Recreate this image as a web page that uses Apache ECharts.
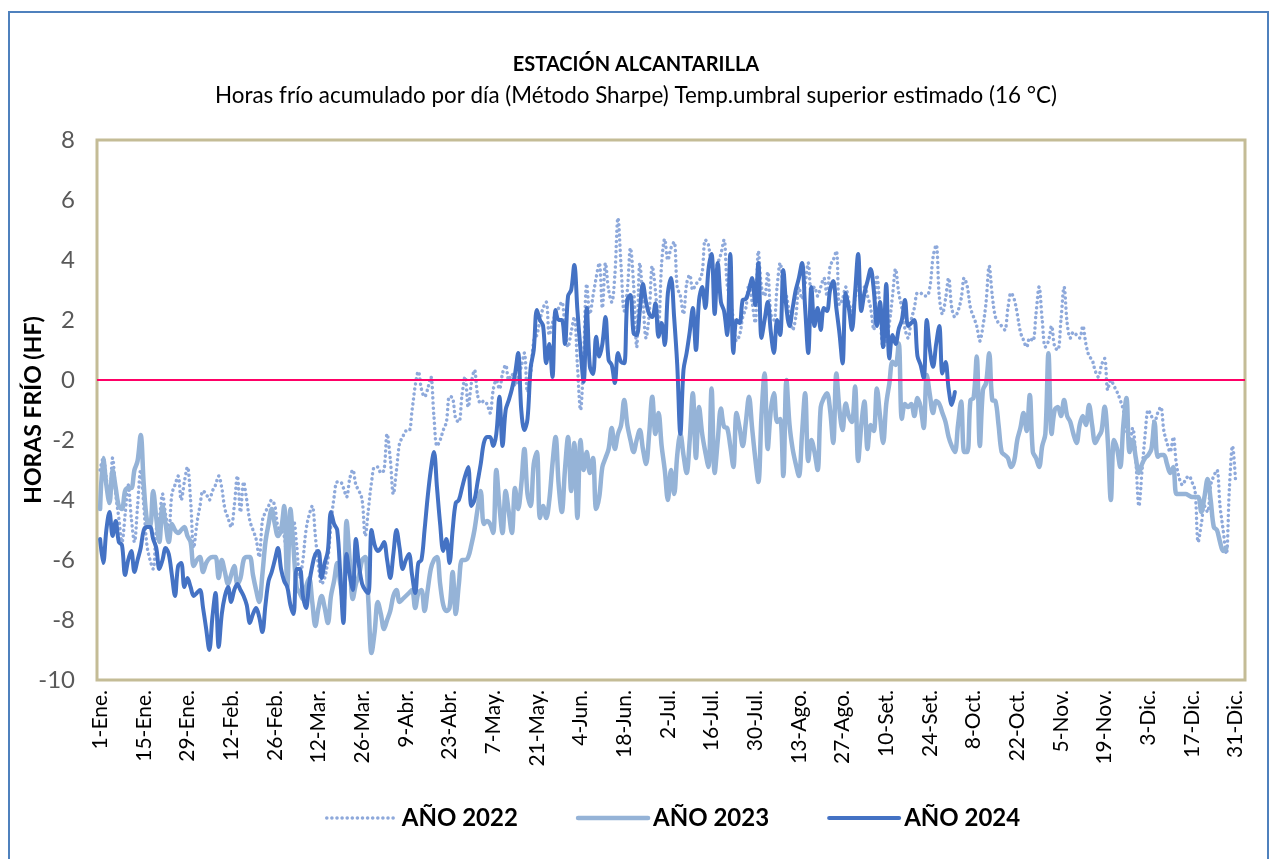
<!DOCTYPE html>
<html><head><meta charset="utf-8">
<script src="https://cdn.jsdelivr.net/npm/echarts@6/dist/echarts.min.js"></script>
<style>html,body{margin:0;padding:0;background:#fff}#c{width:1275px;height:859px}</style>
</head><body><div id="c"></div>
<script>
const months = ['Ene','Feb','Mar','Abr','May','Jun','Jul','Ago','Set','Oct','Nov','Dic'];
const monthDays = [31,28,31,30,31,30,31,31,30,31,30,31];
const tickLabels = ['1-Ene.','15-Ene.','29-Ene.','12-Feb.','26-Feb.','12-Mar.','26-Mar.','9-Abr.','23-Abr.','7-May.','21-May.','4-Jun.','18-Jun.','2-Jul.','16-Jul.','30-Jul.','13-Ago.','27-Ago.','10-Set.','24-Set.','8-Oct.','22-Oct.','5-Nov.','19-Nov.','3-Dic.','17-Dic.','31-Dic.'];
const seriesNames = ['AÑO 2022','AÑO 2023','AÑO 2024'];
const yMin = -10, yMax = 8, yStep = 2;

const d2022 = [
-3.0,-2.6,-3.3,-4.0,-2.6,-3.8,-4.6,-5.4,-4.5,-3.5,
-4.6,-5.4,-4.2,-3.0,-4.2,-5.5,-6.0,-6.3,-5.0,-4.6,
-3.8,-4.5,-5.0,-3.8,-3.5,-3.2,-4.0,-3.4,-2.9,-4.0,
-5.6,-4.8,-4.2,-3.7,-3.8,-4.0,-3.7,-3.5,-3.2,-3.6,
-4.3,-4.6,-4.9,-4.2,-3.2,-4.4,-3.4,-4.0,-4.7,-5.0,
-5.3,-5.9,-4.7,-4.4,-4.2,-4.0,-4.2,-4.9,-5.0,-5.2,
-6.0,-5.0,-4.7,-5.5,-6.6,-6.0,-5.0,-4.5,-4.2,-5.2,
-6.2,-6.8,-6.6,-6.0,-4.8,-3.9,-3.4,-3.4,-3.6,-3.9,
-3.3,-3.0,-3.5,-3.7,-4.0,-5.2,-4.3,-3.4,-2.9,-2.9,
-3.1,-3.0,-1.8,-2.6,-3.8,-3.0,-2.1,-1.9,-1.7,-1.7,
-1.0,-0.2,0.28,-0.3,-0.56,-0.3,0.11,-1.2,-2.2,-2.0,
-1.67,-1.4,-0.55,-0.6,-1.3,-1.4,-0.5,0.11,-0.9,-0.11,
0.33,-0.5,-0.78,-0.7,-0.8,-1.1,-0.33,0.0,-0.3,0.22,
0.5,0.0,0.2,-0.2,0.1,0.45,0.9,-0.4,0.2,1.3,
1.5,2.0,2.4,2.6,1.5,1.9,2.2,2.4,2.6,1.8,
1.1,1.6,2.1,0.5,-1.0,0.8,3.2,2.2,2.8,3.4,
3.9,2.4,3.9,3.0,2.6,3.5,5.4,3.8,2.3,3.0,
4.4,3.2,1.1,3.9,2.7,1.4,2.2,3.8,3.0,1.8,
3.9,4.7,4.0,4.4,4.6,3.1,2.8,2.2,3.2,3.5,
3.0,3.2,3.3,3.6,4.67,4.5,3.8,3.6,3.9,4.2,
4.67,3.2,2.7,2.0,1.3,1.5,2.1,2.4,3.2,2.6,
1.9,4.3,3.1,2.8,3.6,2.2,2.0,3.1,3.9,3.1,
2.8,2.2,1.67,2.1,3.1,2.7,3.2,3.9,2.9,3.1,
2.8,3.1,3.4,2.8,3.8,4.0,4.3,2.5,2.7,3.1,
2.6,2.3,2.7,3.1,3.1,3.1,2.8,2.4,1.67,3.5,
2.4,1.1,1.3,1.9,2.8,3.7,2.9,2.4,1.7,1.4,
2.0,2.4,2.9,2.9,2.8,2.8,3.1,4.1,4.5,2.8,
2.2,2.7,3.4,2.4,2.1,2.3,2.7,3.4,3.1,2.4,
2.1,1.8,1.3,1.8,2.6,3.8,2.8,2.1,1.9,1.8,
1.67,2.4,2.9,2.7,2.2,1.6,1.33,1.1,1.4,1.3,
2.2,3.1,2.0,1.1,1.3,1.8,1.1,1.0,2.0,3.1,
1.9,1.4,1.6,1.5,1.4,1.8,1.2,0.8,0.67,0.3,
0.1,0.5,0.72,-0.33,0.0,-0.2,-0.4,-0.67,-1.0,-1.67,
-2.0,-1.6,-2.67,-4.2,-3.0,-1.8,-1.0,-1.2,-1.4,-1.1,
-0.9,-1.7,-2.1,-2.4,-1.9,-2.8,-3.3,-3.5,-3.3,-3.2,
-3.4,-3.7,-5.4,-4.8,-4.2,-4.4,-3.5,-3.2,-3.0,-4.2,
-5.0,-5.8,-3.6,-2.2,-3.4
];

const d2023 = [
-4.3,-2.6,-3.5,-4.1,-3.0,-3.6,-4.2,-4.3,-3.7,-3.6,
-3.6,-3.0,-2.7,-1.83,-3.5,-4.67,-4.9,-3.7,-4.6,-5.4,
-4.2,-4.8,-5.4,-4.8,-5.0,-5.1,-5.0,-4.9,-5.2,-5.4,
-6.2,-6.0,-5.9,-6.4,-6.1,-5.95,-5.9,-5.9,-6.6,-6.0,
-6.4,-6.8,-6.5,-6.2,-6.8,-6.6,-6.0,-5.9,-5.9,-6.5,
-7.0,-7.4,-6.5,-5.4,-4.8,-4.3,-4.8,-5.2,-5.0,-4.2,
-6.9,-4.3,-5.6,-6.9,-7.1,-7.3,-6.9,-6.6,-7.4,-8.2,
-7.6,-7.2,-7.6,-8.1,-7.2,-6.7,-6.1,-6.8,-7.4,-4.7,
-6.0,-7.3,-6.8,-6.5,-6.0,-5.9,-7.4,-9.1,-8.4,-7.4,
-7.8,-8.3,-8.0,-7.7,-7.2,-7.0,-7.4,-7.3,-7.2,-7.1,
-7.0,-7.6,-7.1,-7.0,-7.7,-7.0,-6.3,-6.0,-5.9,-6.8,
-7.5,-7.7,-7.6,-6.4,-7.8,-6.8,-6.0,-6.0,-5.9,-5.5,
-5.0,-4.3,-3.7,-4.8,-4.7,-4.8,-5.1,-3.0,-4.2,-5.1,
-3.7,-4.4,-5.1,-3.6,-4.3,-3.5,-2.3,-3.8,-4.2,-2.8,
-2.4,-4.6,-4.2,-4.6,-4.0,-2.8,-1.9,-3.5,-4.4,-3.0,
-1.9,-3.7,-2.1,-4.6,-2.0,-3.0,-2.4,-3.1,-2.6,-4.3,
-3.9,-2.9,-2.6,-2.3,-1.6,-2.3,-1.8,-1.5,-0.67,-1.5,
-2.0,-2.4,-2.0,-1.67,-2.3,-2.8,-1.8,-0.56,-1.8,-1.1,
-2.2,-3.0,-4.0,-3.0,-3.8,-2.5,-1.8,-2.5,-3.1,-2.0,
-0.44,-2.6,-0.9,-1.8,-2.4,-2.9,-0.28,-3.1,-2.0,-0.95,
-1.56,-1.6,-2.2,-2.9,-1.1,-1.6,-2.2,-1.4,-0.56,-1.6,
-2.6,-3.4,-1.2,0.22,-2.3,-1.0,-0.44,-1.4,-1.3,-3.2,
0.0,-1.5,-2.3,-2.8,-3.2,-1.8,-0.44,-2.7,-2.0,-2.4,
-3.0,-0.9,-0.6,-0.44,-1.0,-2.1,0.22,-1.0,-1.67,-0.78,
-1.2,-1.4,-0.22,-2.7,-1.5,-0.72,-2.3,-1.5,-1.7,-0.28,
-1.2,-2.1,-0.8,-0.11,0.61,0.5,1.22,-1.3,-0.8,-0.9,
-0.8,-1.2,-0.6,-0.9,-1.6,0.17,-0.5,-1.1,-0.7,-0.8,
-1.1,-1.4,-1.9,-2.2,-2.4,-1.5,-0.72,-2.4,-2.4,-0.67,
-0.6,0.78,-2.2,-0.33,-0.1,0.89,-0.67,-0.7,-1.5,-2.4,
-2.5,-2.6,-2.9,-2.7,-2.0,-1.6,-1.1,-1.7,-0.5,-2.4,
-2.6,-2.9,-2.2,-1.8,0.89,-1.8,-1.0,-0.9,-1.2,-0.67,
-1.2,-1.4,-1.8,-2.1,-1.5,-1.2,-1.5,-0.83,-1.5,-2.1,
-1.9,-1.7,-0.89,-2.0,-4.0,-2.0,-2.3,-2.9,-1.5,-0.6,
-2.4,-2.0,-2.6,-3.1,-2.8,-2.6,-2.5,-2.3,-1.4,-2.56,
-2.5,-2.5,-2.8,-3.1,-2.9,-3.8,-3.8,-3.8,-3.8,-3.85,
-3.9,-3.9,-3.9,-4.4,-3.9,-3.3,-4.0,-4.9,-5.0,-5.4,
-5.7,-5.6
];

const d2024 = [
-5.3,-6.1,-5.0,-4.4,-5.2,-4.7,-5.4,-5.5,-6.5,-6.0,
-5.7,-6.4,-6.0,-5.6,-5.0,-4.9,-4.9,-5.3,-5.6,-6.3,
-6.0,-5.6,-5.8,-6.5,-7.2,-6.2,-6.1,-6.9,-6.6,-6.9,
-7.2,-7.1,-7.0,-7.6,-8.3,-9.0,-7.9,-7.1,-8.9,-7.8,
-7.2,-6.9,-7.4,-7.0,-6.8,-7.0,-7.2,-7.5,-8.1,-7.8,
-7.6,-7.9,-8.4,-7.5,-6.7,-6.4,-6.0,-5.6,-6.3,-6.7,
-6.9,-7.5,-7.8,-6.3,-6.3,-7.2,-7.6,-6.8,-6.2,-5.8,
-5.7,-6.6,-6.1,-5.7,-4.4,-4.8,-5.0,-6.5,-8.1,-5.8,
-6.5,-7.0,-5.3,-6.2,-6.8,-7.0,-7.1,-5.0,-5.5,-5.7,
-5.6,-5.4,-6.0,-6.6,-5.8,-5.0,-5.6,-6.3,-6.0,-5.8,
-6.5,-7.1,-6.1,-6.0,-5.0,-3.9,-3.0,-2.4,-3.6,-4.8,
-5.7,-5.3,-6.1,-5.0,-4.1,-4.0,-3.6,-3.2,-2.9,-4.2,
-4.0,-3.4,-2.8,-2.1,-1.9,-1.9,-2.2,-1.8,-0.56,-2.2,
-1.0,-0.67,-0.3,0.2,0.9,-1.0,-1.67,-1.3,0.4,1.0,
2.33,2.0,1.8,0.56,1.2,0.1,2.33,2.0,2.0,1.2,
2.8,3.0,3.83,2.33,1.0,-0.06,2.4,0.44,0.2,1.44,
0.78,1.2,2.1,0.67,0.5,-0.1,0.9,0.6,0.56,2.67,
2.83,1.56,1.5,2.3,3.2,2.6,2.2,2.1,2.56,1.44,
1.9,1.17,2.9,3.4,2.1,0.5,-1.8,0.33,0.9,1.6,
2.4,1.0,2.67,3.1,2.4,3.67,4.2,2.2,3.9,2.6,
2.3,1.5,4.2,0.9,2.0,1.9,2.67,2.7,3.0,3.4,
2.5,3.9,1.4,2.0,2.6,1.6,0.9,2.0,1.5,3.67,
2.4,1.8,2.4,3.0,3.4,3.9,2.4,0.9,3.1,1.8,
2.4,1.67,2.4,2.3,3.0,3.3,2.4,1.56,0.55,2.9,
2.4,1.67,2.9,4.2,2.3,2.9,3.3,3.7,3.0,1.8,
2.6,1.1,3.2,0.72,1.5,1.2,1.7,2.0,2.67,1.8,
1.9,2.0,0.8,0.5,0.06,2.0,1.0,0.44,1.2,1.8,
0.22,0.6,-0.3,-0.83,-0.4
];

const days = [];
months.forEach((m, i) => { for (let d = 1; d <= monthDays[i]; d++) days.push(d + '-' + m + '.'); });
const categories = [''].concat(days, ['', '', '']);
const pad = arr => [null].concat(arr);

const FONT = 'Lato, "Liberation Sans", sans-serif';
const styles = [
  { color: '#8EA9DB', width: 3.5, type: [0.1, 5], cap: 'round' },
  { color: '#95B3D7', width: 4.5, type: 'solid', cap: 'round' },
  { color: '#4472C4', width: 4, type: 'solid', cap: 'round' }
];
const chart = echarts.init(document.getElementById('c'));
chart.setOption({
  backgroundColor: '#ffffff',
  animation: false,
  title: [
    { text: 'ESTACIÓN ALCANTARILLA', left: 631, top: 50, textAlign: 'center',
      textStyle: { fontFamily: FONT, fontSize: 20, fontWeight: 'bold', color: '#000' } },
    { text: 'Horas frío acumulado por día (Método Sharpe) Temp.umbral superior estimado (16 °C)', left: 631, top: 80, textAlign: 'center',
      textStyle: { fontFamily: FONT, fontSize: 22.4, fontWeight: 'normal', color: '#000' } }
  ],
  graphic: [
    { type: 'rect', shape: { x: 9, y: 12, width: 1259, height: 870 }, style: { fill: 'none', stroke: '#4F81BD', lineWidth: 2 }, silent: true, z: -1 }
  ],
  legend: {
    left: 320, top: 801, itemWidth: 70, itemHeight: 14, itemGap: 58,
    itemStyle: { opacity: 0 },
    data: seriesNames.map((n, i) => ({ name: n, lineStyle: styles[i] })),
    textStyle: { fontFamily: FONT, fontSize: 24, fontWeight: 'bold', color: '#000' }
  },
  grid: { left: 97, right: 30, top: 140, bottom: 179, outerBoundsMode: 'none', containLabel: false,
    show: true, borderColor: '#C4BC96', borderWidth: 3, backgroundColor: 'transparent' },
  xAxis: {
    type: 'category', data: categories, boundaryGap: false,
    axisLine: { show: false }, axisTick: { show: false }, splitLine: { show: false },
    axisLabel: {
      rotate: 90, margin: 10, fontFamily: FONT, fontSize: 21, color: '#000',
      interval: (idx, val) => tickLabels.includes(val)
    }
  },
  yAxis: {
    type: 'value', min: yMin, max: yMax, interval: yStep,
    axisLine: { show: false }, axisTick: { show: false }, splitLine: { show: false },
    axisLabel: { margin: 22, fontFamily: FONT, fontSize: 24, color: '#595959' },
    name: 'HORAS FRÍO (HF)', nameLocation: 'middle', nameGap: 52, nameRotate: 90, nameMoveOverlap: false,
    nameTextStyle: { fontFamily: FONT, fontSize: 23, fontWeight: 'bold', color: '#000' }
  },
  series: [
    { name: seriesNames[0], type: 'line', data: pad(d2022), smooth: 0.35, symbol: 'none',
      lineStyle: styles[0], itemStyle: { color: styles[0].color },
      markLine: { silent: true, symbol: ['none', 'none'], label: { show: false },
        lineStyle: { color: '#FF0066', width: 2, type: 'solid' }, data: [{ yAxis: 0 }] } },
    { name: seriesNames[1], type: 'line', data: pad(d2023), smooth: 0.35, symbol: 'none',
      lineStyle: styles[1], itemStyle: { color: styles[1].color } },
    { name: seriesNames[2], type: 'line', data: pad(d2024), smooth: 0.35, symbol: 'none',
      lineStyle: styles[2], itemStyle: { color: styles[2].color } }
  ]
});
</script></body></html>
